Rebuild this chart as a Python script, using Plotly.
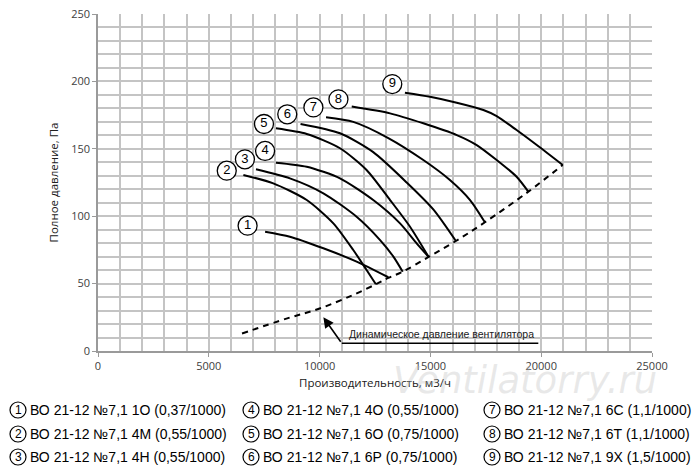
import plotly.graph_objects as go

# ---------------- data ----------------
c1_x = [7540, 8660, 10170, 11670, 13100]
c1_y = [88.5, 84.8, 76.2, 66.3, 54.7]
c2_x = [6560, 7910, 9420, 10620, 11520, 12120, 12540]
c2_y = [130.6, 124.4, 112, 94.7, 74.9, 60.1, 49.5]
c3_x = [7130, 8660, 10170, 11670, 12730, 13330, 13750]
c3_y = [134.8, 128.1, 117, 99.6, 82.3, 70, 58.8]
c4_x = [8030, 9420, 10920, 12420, 13630, 14380, 14920]
c4_y = [139.7, 136.7, 128.1, 112, 94.7, 79.9, 69.8]
c5_x = [8030, 9420, 10920, 12120, 13180, 14080, 14920]
c5_y = [165.2, 161, 150.4, 134.3, 112, 92.2, 69.8]
c6_x = [9140, 10920, 12420, 13930, 15130, 16150]
c6_y = [168.4, 161.5, 147.5, 125, 105, 81.6]
c7_x = [10290, 11520, 13100, 14680, 15880, 16790, 17460]
c7_y = [173.4, 170, 158, 141.7, 126.9, 112, 95.5]
c8_x = [11450, 13180, 14680, 16190, 17090, 17990, 18890, 19420]
c8_y = [181.3, 176.3, 168.9, 160.2, 152.8, 141.7, 129.3, 118.2]
c9_x = [13850, 14980, 16190, 17390, 17990, 18890, 19800, 20970]
c9_y = [191.6, 188.6, 184.2, 178.8, 174.3, 163.9, 152.8, 138]
curves_x = [c1_x, c2_x, c3_x, c4_x, c5_x, c6_x, c7_x, c8_x, c9_x]
curves_y = [c1_y, c2_y, c3_y, c4_y, c5_y, c6_y, c7_y, c8_y, c9_y]

dyn_x = [6500, 8500, 10000, 11500, 12540, 13100, 13750, 14920, 16150, 17460, 19420, 20970]
dyn_y = [13, 24, 31.5, 41.5, 49.5, 54.2, 58.8, 69.8, 81.6, 95.5, 118.2, 138]

label_num = ["1", "2", "3", "4", "5", "6", "7", "8", "9"]
label_x = [6750, 5810, 6630, 7540, 7490, 8540, 9720, 10850, 13280]
label_y = [93, 133.8, 142.2, 148.4, 168.4, 175.6, 180.7, 186.7, 198]

legend_names = [
    "ВО 21-12 №7,1 1О (0,37/1000)",
    "ВО 21-12 №7,1 4М (0,55/1000)",
    "ВО 21-12 №7,1 4Н (0,55/1000)",
    "ВО 21-12 №7,1 4О (0,55/1000)",
    "ВО 21-12 №7,1 6О (0,75/1000)",
    "ВО 21-12 №7,1 6Р (0,75/1000)",
    "ВО 21-12 №7,1 6С (1,1/1000)",
    "ВО 21-12 №7,1 6Т (1,1/1000)",
    "ВО 21-12 №7,1 9Х (1,5/1000)",
]

note_text = "Динамическое давление вентилятора"
note_tip = [10170, 25]
note_line_x = [11000, 19870]
note_line_y = 5.7

x_ticks = [0, 5000, 10000, 15000, 20000, 25000]
y_ticks = [0, 50, 100, 150, 200, 250]

# ---------------- figure ----------------
fig = go.Figure()
for cx, cy in zip(curves_x, curves_y):
    fig.add_trace(go.Scatter(x=cx, y=cy, mode="lines", line=dict(color="black", width=2, shape="spline", smoothing=0.7),
                             hoverinfo="skip", showlegend=False))
fig.add_trace(go.Scatter(x=dyn_x, y=dyn_y, mode="lines", line=dict(color="black", width=2, dash="6px,5px", shape="spline"),
                         showlegend=False, hoverinfo="skip"))
fig.add_trace(go.Scatter(x=label_x, y=label_y, mode="markers+text", text=label_num, textposition="middle center",
                         marker=dict(size=19, color="white", line=dict(color="black", width=1.3)),
                         textfont=dict(family="Liberation Sans", size=13, color="black"),
                         showlegend=False, hoverinfo="skip"))

GRID = "#c4c4c4"
TICKFONT = dict(family="Open Sans", size=11, color="#404040")
fig.update_xaxes(range=[0, 25000], tickvals=x_ticks, ticktext=[str(v) for v in x_ticks], showgrid=True, gridcolor=GRID, gridwidth=1.5,
                 minor=dict(dtick=1000, showgrid=True, gridcolor=GRID, gridwidth=1.5),
                 ticks="outside", ticklen=4, tickcolor="#9a9a9a", showline=True, linecolor="#9a9a9a", linewidth=1.5,
                 zeroline=False, tickfont=TICKFONT, automargin=False, ticklabeloverflow="allow",
                 title=dict(text="Производительность, м3/ч", font=dict(family="Open Sans", size=11.5, color="#202020"), standoff=7))
fig.update_yaxes(range=[0, 250], tickvals=y_ticks, ticktext=[str(v) for v in y_ticks], showgrid=True, gridcolor=GRID, gridwidth=1.5,
                 minor=dict(dtick=10, showgrid=True, gridcolor=GRID, gridwidth=1.5),
                 ticks="outside", ticklen=4, tickcolor="#9a9a9a", showline=True, linecolor="#9a9a9a", linewidth=1.5,
                 zeroline=False, tickfont=TICKFONT, automargin=False, ticklabeloverflow="allow",
                 title=dict(text="Полное давление, Па", font=dict(family="Open Sans", size=11.5, color="#202020"), standoff=10))

annotations = []
shapes = []
# dynamic pressure note
annotations.append(dict(x=note_tip[0], y=note_tip[1], ax=note_line_x[0], ay=note_line_y, xref="x", yref="y",
                        axref="x", ayref="y", text="", showarrow=True, arrowhead=2, arrowsize=1.3, arrowwidth=1.6,
                        arrowcolor="black"))
shapes.append(dict(type="line", xref="x", yref="y", x0=note_line_x[0], x1=note_line_x[1], y0=note_line_y, y1=note_line_y,
                   line=dict(color="black", width=1.6)))
annotations.append(dict(x=note_line_x[1] - 100, y=note_line_y, xref="x", yref="y", text=note_text, showarrow=False,
                        xanchor="right", yanchor="bottom", yshift=1,
                        font=dict(family="Liberation Sans", size=10.5, color="#202020")))

# legend (3 columns x 3 rows)
col_x = [18, 251, 492]
row_y = [410, 434, 457]
PW, PH = 554.0, 337.0
for i, name in enumerate(legend_names):
    col, row = i // 3, i % 3
    px, py = col_x[col], row_y[row]
    xp = (px - 98) / PW
    yp = (351 - py) / PH
    shapes.append(dict(type="circle", xref="paper", yref="paper", xsizemode="pixel", ysizemode="pixel",
                       xanchor=xp, yanchor=yp, x0=-8, x1=8, y0=-8, y1=8, line=dict(color="black", width=1.2),
                       fillcolor="white"))
    annotations.append(dict(x=xp, y=yp, xref="paper", yref="paper", text=label_num[i], showarrow=False,
                            xanchor="center", yanchor="middle",
                            font=dict(family="Liberation Sans", size=12, color="black")))
    annotations.append(dict(x=xp, y=yp, xref="paper", yref="paper", text=name, showarrow=False, xshift=10,
                            xanchor="left", yanchor="middle",
                            font=dict(family="Liberation Sans", size=14, color="black")))

# watermark
annotations.append(dict(x=(525 - 98) / PW, y=(351 - 380) / PH, xref="paper", yref="paper", text="<i>Ventilatorry.ru</i>",
                        showarrow=False, xanchor="center", yanchor="middle",
                        font=dict(family="DejaVu Sans", size=37, color="rgba(190,190,190,0.35)")))

# page body adds an 8px margin: figure is sized/offset to keep the plot where the reference has it
fig.update_layout(width=692, height=462, margin=dict(l=90, r=48, t=6, b=119),
                  plot_bgcolor="white", paper_bgcolor="white", annotations=annotations, shapes=shapes,
                  showlegend=False)
fig.write_html("out.html")
